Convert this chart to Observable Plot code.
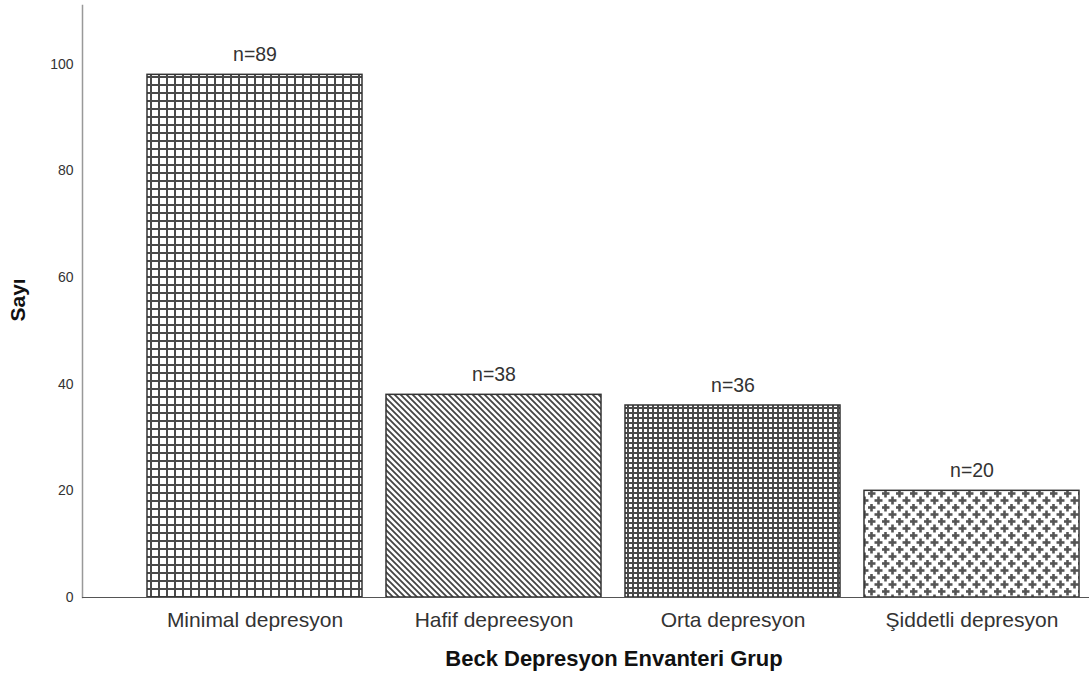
<!DOCTYPE html>
<html>
<head>
<meta charset="utf-8">
<script src="https://cdn.jsdelivr.net/npm/d3@7"></script>
<script src="https://cdn.jsdelivr.net/npm/@observablehq/plot@0.6"></script>
<style>
  html, body { margin: 0; padding: 0; background: #fff; }
  #chart { width: 1089px; height: 684px; }
</style>
</head>
<body>
<div id="chart"></div>
<script>
const categories = ["Minimal depresyon", "Hafif depreesyon", "Orta depresyon", "Şiddetli depresyon"];
const values = [98, 38, 36, 20];
const labels = ["n=89", "n=38", "n=36", "n=20"];
const yTicks = [0, 20, 40, 60, 80, 100];
const xTitle = "Beck Depresyon Envanteri Grup";
const yTitle = "Sayı";
const patternIds = ["pat0", "pat1", "pat2", "pat3"];

const data = categories.map((c, i) => ({cat: c, value: values[i], label: labels[i]}));
const font = "'Liberation Sans', Arial, sans-serif";

const svg = Plot.plot({
  width: 1089,
  height: 684,
  marginLeft: 82,
  marginRight: 0,
  marginTop: 5,
  marginBottom: 87,
  style: {fontFamily: font, background: "#fff", color: "#222"},
  x: {domain: categories, range: [135, 1091], paddingInner: 0.1, paddingOuter: 0.05},
  y: {domain: [0, 111]},
  color: {type: "ordinal", domain: categories, range: patternIds.map(id => `url(#${id})`)},
  marks: [
    Plot.barY(data, {x: "cat", y: "value", fill: "cat", stroke: "#333", strokeWidth: 1.5}),
    Plot.text(data, {x: "cat", y: "value", text: "label", dy: -20, fontSize: 19.5, fill: "#333"}),
    Plot.axisY({ticks: yTicks, tickSize: 0, tickPadding: 9, fontSize: 14, label: null, fill: "#333"}),
    Plot.axisX({tickSize: 0, tickPadding: 15, fontSize: 21, label: null, fill: "#333"}),
    Plot.frame({anchor: "left", stroke: "#999", strokeWidth: 1.5}),
    Plot.ruleY([0], {stroke: "#555", strokeWidth: 1.2}),
    Plot.text([xTitle], {frameAnchor: "bottom", dx: 28, dy: 68, fontSize: 22, fontWeight: "bold", fill: "#111"}),
    Plot.text([yTitle], {frameAnchor: "left", dx: -64, dy: 20, rotate: -90, fontSize: 21, fontWeight: "bold", fill: "#111"})
  ]
});

const defs = d3.select(svg).insert("defs", ":first-child");
// pattern 0: open grid
{
  const p = defs.append("pattern").attr("id", "pat0").attr("patternUnits", "userSpaceOnUse")
    .attr("width", 8).attr("height", 8).attr("x", 147).attr("y", 73);
  p.append("rect").attr("width", 8).attr("height", 8).attr("fill", "#fff");
  p.append("rect").attr("x", 3).attr("y", 0).attr("width", 2).attr("height", 8).attr("fill", "#4a4a4a");
  p.append("rect").attr("x", 0).attr("y", 3).attr("width", 8).attr("height", 2).attr("fill", "#4a4a4a");
}
// pattern 1: diagonal lines (backslash)
{
  const p = defs.append("pattern").attr("id", "pat1").attr("patternUnits", "userSpaceOnUse")
    .attr("width", 6).attr("height", 6);
  p.append("rect").attr("width", 6).attr("height", 6).attr("fill", "#fff");
  p.append("path").attr("d", "M-3,3 L3,9 M0,0 L6,6 M3,-3 L9,3").attr("stroke", "#444").attr("stroke-width", 1.8);
}
// pattern 2: dense grid
{
  const p = defs.append("pattern").attr("id", "pat2").attr("patternUnits", "userSpaceOnUse")
    .attr("width", 5).attr("height", 5);
  p.append("rect").attr("width", 5).attr("height", 5).attr("fill", "#fff");
  p.append("rect").attr("x", 2).attr("y", 0).attr("width", 2).attr("height", 5).attr("fill", "#4a4a4a");
  p.append("rect").attr("x", 0).attr("y", 2).attr("width", 5).attr("height", 2).attr("fill", "#4a4a4a");
}
// pattern 3: plus shapes on diagonal lattice
{
  const s = 14;
  const p = defs.append("pattern").attr("id", "pat3").attr("patternUnits", "userSpaceOnUse")
    .attr("width", s).attr("height", s);
  p.append("rect").attr("width", s).attr("height", s).attr("fill", "#fff");
  const plus = (cx, cy) => {
    p.append("rect").attr("x", cx - 1.3).attr("y", cy - 4).attr("width", 2.6).attr("height", 8).attr("fill", "#555");
    p.append("rect").attr("x", cx - 4).attr("y", cy - 1.3).attr("width", 8).attr("height", 2.6).attr("fill", "#555");
  };
  plus(3.5, 3.5);
  plus(10.5, 10.5);
  plus(10.5 - s, 10.5);
  plus(10.5, 10.5 - s);
  plus(10.5 - s, 10.5 - s);
}

document.getElementById("chart").appendChild(svg);
</script>
</body>
</html>
